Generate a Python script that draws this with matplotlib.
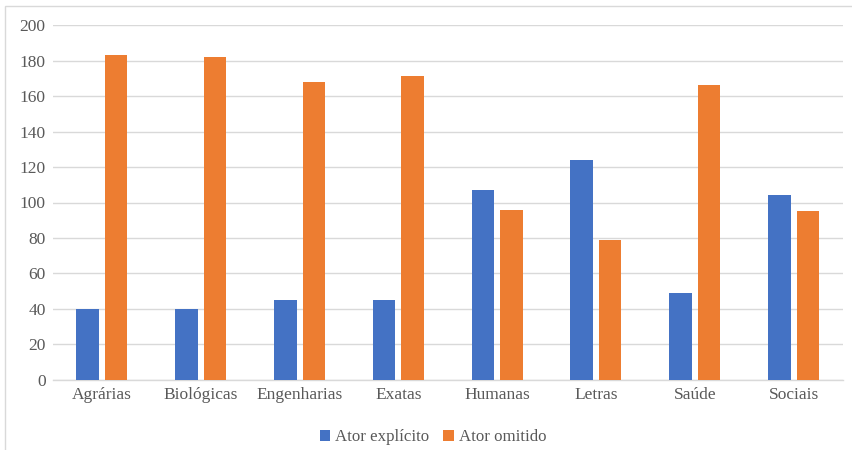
import matplotlib
matplotlib.use("Agg")
import matplotlib.pyplot as plt
from matplotlib.patches import Rectangle
import numpy as np

areas = ["Agrárias", "Biológicas", "Engenharias", "Exatas",
         "Humanas", "Letras", "Saúde", "Sociais"]
ator_explicito = [40, 40, 45, 45, 107, 124, 49, 104]
ator_omitido = [183, 182, 168, 171, 96, 79, 166, 95]
y_ticks = list(range(0, 201, 20))


def main():
    plt.rcParams["font.family"] = ["Liberation Serif", "DejaVu Serif"]
    text_color = "#595959"
    grid_color = "#D9D9D9"

    fig = plt.figure(figsize=(8.52, 4.5), dpi=100)
    ax = fig.add_axes([0.0617, 0.1556, 0.9277, 0.7888])

    x = np.arange(len(areas))
    width = 0.228
    offset = 0.144
    ax.bar(x - offset, ator_explicito, width, color="#4472C4",
           label="Ator explícito", zorder=3)
    ax.bar(x + offset, ator_omitido, width, color="#ED7D31",
           label="Ator omitido", zorder=3)

    ax.set_xlim(-0.5, len(areas) - 0.5)
    ax.set_ylim(0, 200)
    ax.set_yticks(y_ticks)
    ax.set_xticks(x)
    ax.set_xticklabels(areas)
    ax.tick_params(axis="both", length=0, labelsize=12.5, labelcolor=text_color)
    ax.tick_params(axis="x", pad=5)
    ax.tick_params(axis="y", pad=5)
    ax.yaxis.grid(True, color=grid_color, linewidth=1, zorder=0)
    for side in ["top", "right", "left"]:
        ax.spines[side].set_visible(False)
    ax.spines["bottom"].set_color(grid_color)
    ax.spines["bottom"].set_linewidth(1)

    fig.legend(loc="center", bbox_to_anchor=(433 / 852, 1 - 437 / 450),
               ncol=2, frameon=False, fontsize=12.2, handlelength=0.62,
               handleheight=0.62, handletextpad=0.3, columnspacing=0.8,
               labelcolor=text_color)

    # chart frame, only top and left edges fall inside the image
    fig.patches.append(Rectangle((5 / 852, -0.1), 1.2, 1 - 6 / 450 + 0.1,
                                 transform=fig.transFigure, fill=False,
                                 edgecolor=grid_color, linewidth=1))

    fig.savefig("out.png", dpi=100)


if __name__ == "__main__":
    main()
